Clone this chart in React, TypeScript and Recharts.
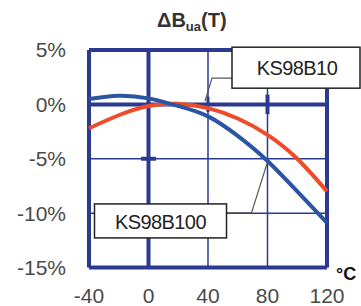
import { LineChart, Line, XAxis, YAxis, CartesianGrid, ReferenceLine, ReferenceDot } from "recharts";

const temps = [-40, -20, 0, 20, 40, 60, 80, 100, 120];
const ks98b10 = [-2.2, -1.0, -0.15, 0.05, -0.35, -1.3, -2.8, -5.0, -8.0];
const ks98b100 = [0.5, 0.8, 0.55, -0.15, -1.1, -2.9, -5.2, -8.0, -10.9];
const xTicks = [-40, 0, 40, 80, 120];
const yTicks = [-15, -10, -5, 0, 5];

const data = temps.map((t, i) => ({ t, b10: ks98b10[i], b100: ks98b100[i] }));

const NAVY = "#2b3990";
const FONT = "'Liberation Sans', Arial, sans-serif";

// callout box with a bent leader line, drawn relative to the anchored point
function Callout(props: any) {
  const { cx, cy, text, tip, elbow, attach, box, textAt } = props;
  if (cx == null || cy == null) return null;
  return (
    <g>
      <polyline
        points={`${cx + tip[0]},${cy + tip[1]} ${cx + elbow[0]},${cy + elbow[1]} ${cx + attach[0]},${cy + attach[1]}`}
        fill="none"
        stroke="#555"
        strokeWidth={1.2}
      />
      <rect
        x={cx + box[0]}
        y={cy + box[1]}
        width={box[2]}
        height={box[3]}
        fill="#fff"
        stroke="#222"
        strokeWidth={1.5}
      />
      <text
        x={cx + textAt[0]}
        y={cy + textAt[1]}
        textAnchor="middle"
        fontFamily={FONT}
        fontSize={20}
        letterSpacing={-0.6}
        fill="#222"
      >
        {text}
      </text>
    </g>
  );
}

export default function App() {
  return (
    <div style={{ position: "absolute", left: 0, top: 0, width: 361, height: 306, background: "#fff" }}>
      <LineChart width={361} height={306} data={data} margin={{ top: 50, right: 34, left: 0, bottom: 0 }}>
        <CartesianGrid stroke={NAVY} strokeWidth={1.5} />
        <XAxis
          dataKey="t"
          type="number"
          domain={[-40, 120]}
          ticks={xTicks}
          height={38.5}
          axisLine={false}
          tickLine={false}
          tickSize={0}
          tickMargin={20.5}
          tick={{ fill: "#4a4a4a", fontSize: 21, fontFamily: FONT }}
        />
        <YAxis
          domain={[-15, 5]}
          ticks={yTicks}
          width={89}
          axisLine={false}
          tickLine={false}
          tickSize={0}
          tickMargin={23}
          tickFormatter={(v) => `${v}%`}
          tick={{ fill: "#4a4a4a", fontSize: 21, fontFamily: FONT }}
        />

        {/* thick frame and zero lines */}
        <ReferenceLine x={-40} stroke={NAVY} strokeWidth={4} />
        <ReferenceLine x={0} stroke={NAVY} strokeWidth={4} />
        <ReferenceLine x={120} stroke={NAVY} strokeWidth={4} />
        <ReferenceLine y={5} stroke={NAVY} strokeWidth={4} />
        <ReferenceLine y={0} stroke={NAVY} strokeWidth={4} />
        <ReferenceLine y={-15} stroke={NAVY} strokeWidth={4} />

        {/* small tick marks */}
        <ReferenceLine segment={[{ x: -5, y: -5 }, { x: 5, y: -5 }]} stroke={NAVY} strokeWidth={4} />
        <ReferenceLine segment={[{ x: 40, y: 0.7 }, { x: 40, y: -0.7 }]} stroke={NAVY} strokeWidth={3} />
        <ReferenceLine segment={[{ x: 80, y: 0.9 }, { x: 80, y: -0.9 }]} stroke={NAVY} strokeWidth={4} />

        <Line dataKey="b10" type="natural" stroke="#ef4b2b" strokeWidth={4} dot={false} isAnimationActive={false} />
        <Line dataKey="b100" type="natural" stroke="#2a55a3" strokeWidth={4} dot={false} isAnimationActive={false} />

        <ReferenceDot
          x={40}
          y={ks98b10[4]}
          r={0}
          shape={(p: any) => (
            <Callout
              cx={p.cx}
              cy={p.cy}
              text="KS98B10"
              tip={[-3, -7]}
              elbow={[4, -30]}
              attach={[24, -30]}
              box={[24, -61, 128, 41]}
              textAt={[89, -33]}
            />
          )}
        />
        <ReferenceDot
          x={80}
          y={ks98b100[6]}
          r={0}
          shape={(p: any) => (
            <Callout
              cx={p.cx}
              cy={p.cy}
              text="KS98B100"
              tip={[0, 1]}
              elbow={[-16, 52]}
              attach={[-41, 52]}
              box={[-173, 43, 132, 34]}
              textAt={[-107, 68]}
            />
          )}
        />
      </LineChart>

      <div
        style={{
          position: "absolute",
          left: 157,
          top: 8,
          fontFamily: FONT,
          fontWeight: "bold",
          fontSize: 20,
          lineHeight: "24px",
          color: "#333",
          whiteSpace: "nowrap",
        }}
      >
        ΔB<sub style={{ fontSize: 13, verticalAlign: "-4px" }}>ua</sub>(T)
      </div>
      <div
        style={{
          position: "absolute",
          left: 336,
          top: 263,
          fontFamily: FONT,
          fontWeight: "bold",
          fontSize: 18,
          lineHeight: "22px",
          color: "#111",
        }}
      >
        °C
      </div>
    </div>
  );
}
